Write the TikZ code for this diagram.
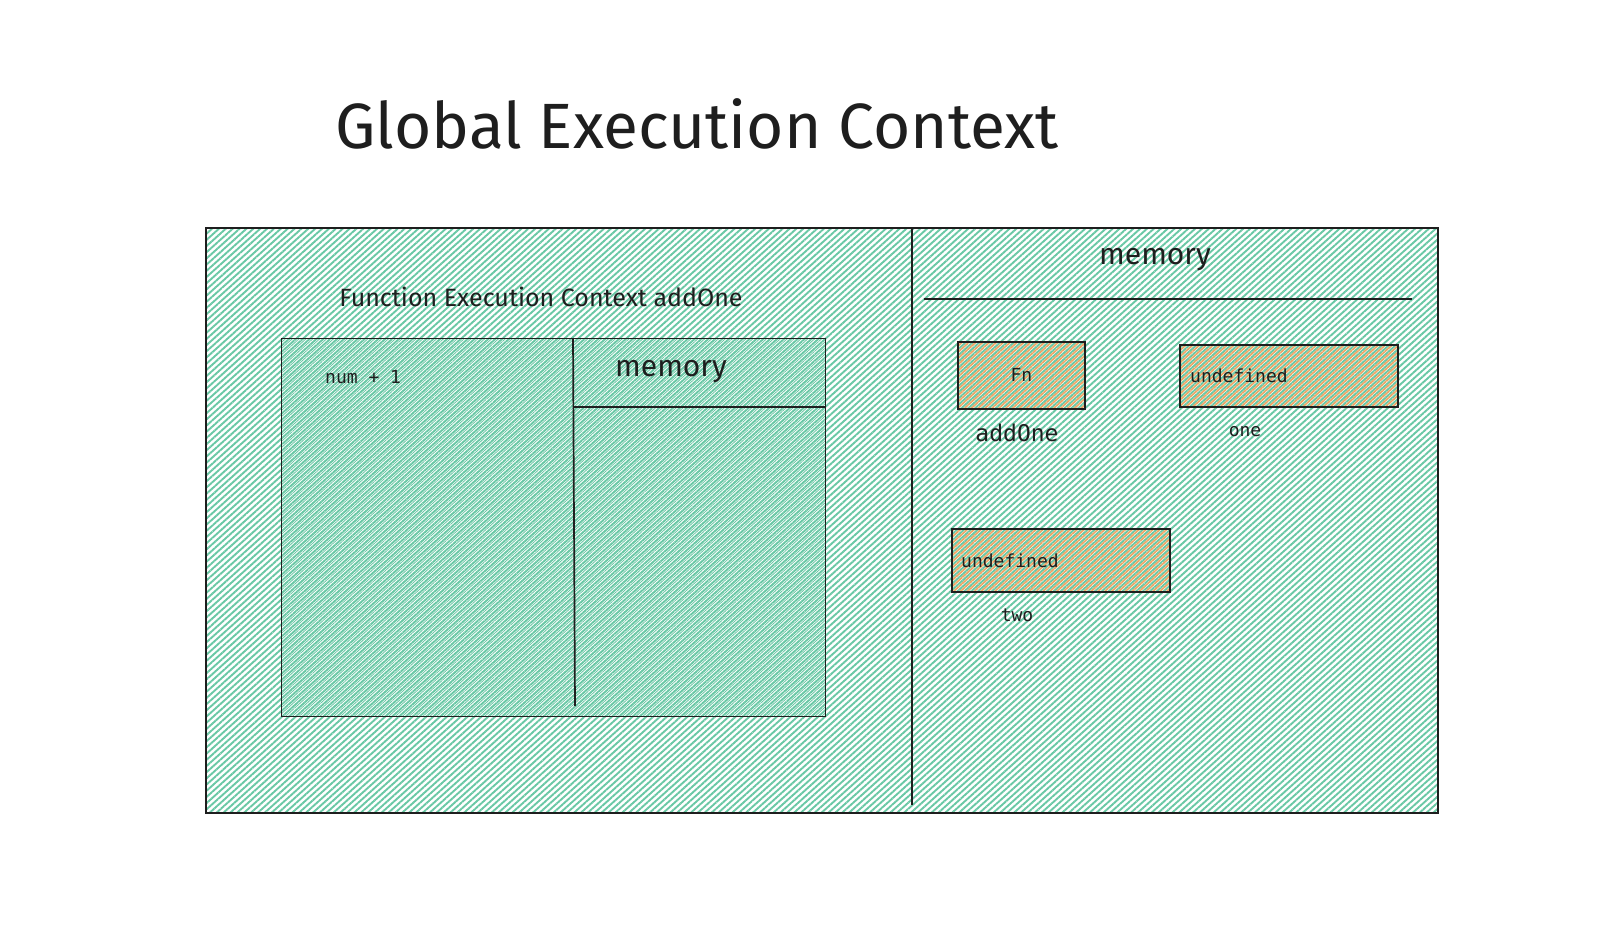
\documentclass[tikz,border=0pt]{standalone}
\usepackage{fontspec}
\setmainfont{Fira Sans}
\newfontfamily\handfont{Fira Sans}
\newfontfamily\codefont{DejaVu Sans Mono}
\usetikzlibrary{patterns.meta}
\definecolor{gH}{RGB}{105,200,165}
\definecolor{oH}{RGB}{238,165,100}
\definecolor{ink}{RGB}{30,30,30}
\tikzset{
  ghatch/.style={pattern={Lines[angle=42,distance=4.6pt,line width=1.9pt]}, pattern color=gH},
  ghatchb/.style={pattern={Lines[angle=42,distance=4.6pt,line width=0.8pt,xshift=3.1pt]}, pattern color=gH},
  ohatch/.style={pattern={Lines[angle=42,distance=4.6pt,line width=1.7pt,xshift=3.1pt]}, pattern color=oH},
  frame/.style={draw=ink, line width=1.7pt, inner sep=0pt, anchor=north west},
  divider/.style={draw=ink, line width=1.7pt},
  valbox/.style={frame, ohatch},
  hand/.style={font=\handfont\fontsize{#1}{#1}\selectfont, text=ink, inner sep=0pt},
  code/.style={font=\codefont\fontsize{#1}{#1}\selectfont, text=ink, inner sep=0pt},
}
\begin{document}
\begin{tikzpicture}[x=1pt,y=-1pt]
\useasboundingbox[fill=white] (0,0) rectangle (1622,952);
% title
\node[hand=64] (title) at (697,124) {Global Execution Context};
% global context frame
\node[frame, ghatch, minimum width=1232pt, minimum height=585pt] (gec) at (205,227) {};
\coordinate (divT) at (912,229);
\coordinate (divB) at (912,805);
\draw[divider] (divT) -- (divB);
% global memory
\node[hand=30] (gmem) at (1155,260) {memory};
\coordinate (gmL) at (924,299);
\coordinate (gmR) at (1412,299);
\draw[divider] (gmL) -- (gmR);
% function execution context
\node[hand=25] (fectitle) at (541,297) {Function Execution Context addOne};
\node[frame, ghatchb, minimum width=544pt, minimum height=378pt] (fec) at (281,338) {};
\coordinate (fdT) at (573,338);
\coordinate (fdB) at (575,706);
\draw[divider] (fdT) -- (fdB);
\coordinate (fmL) at (573,407);
\coordinate (fmR) at (825,407);
\draw[divider] (fmL) -- (fmR);
\node[hand=30] (fmem) at (671,372) {memory};
\node[code=18, anchor=west] (code) at (325,377) {num + 1};
% values
\node[valbox, minimum width=127pt, minimum height=67pt] (fn) at (957,341) {};
\node[code=18] (fntext) at (fn.center) {Fn};
\node[code=23] (addone) at (1017,433) {addOne};
\node[valbox, minimum width=218pt, minimum height=62pt] (u1) at (1179,344) {};
\node[code=18, anchor=west] (u1text) at ([xshift=11pt]u1.west) {undefined};
\node[code=18] (one) at (1245,432) {one};
\node[valbox, minimum width=218pt, minimum height=63pt] (u2) at (951,528) {};
\node[code=18, anchor=west] (u2text) at ([xshift=10pt]u2.west) {undefined};
\node[code=18] (two) at (1017,615) {two};
\end{tikzpicture}
\end{document}
